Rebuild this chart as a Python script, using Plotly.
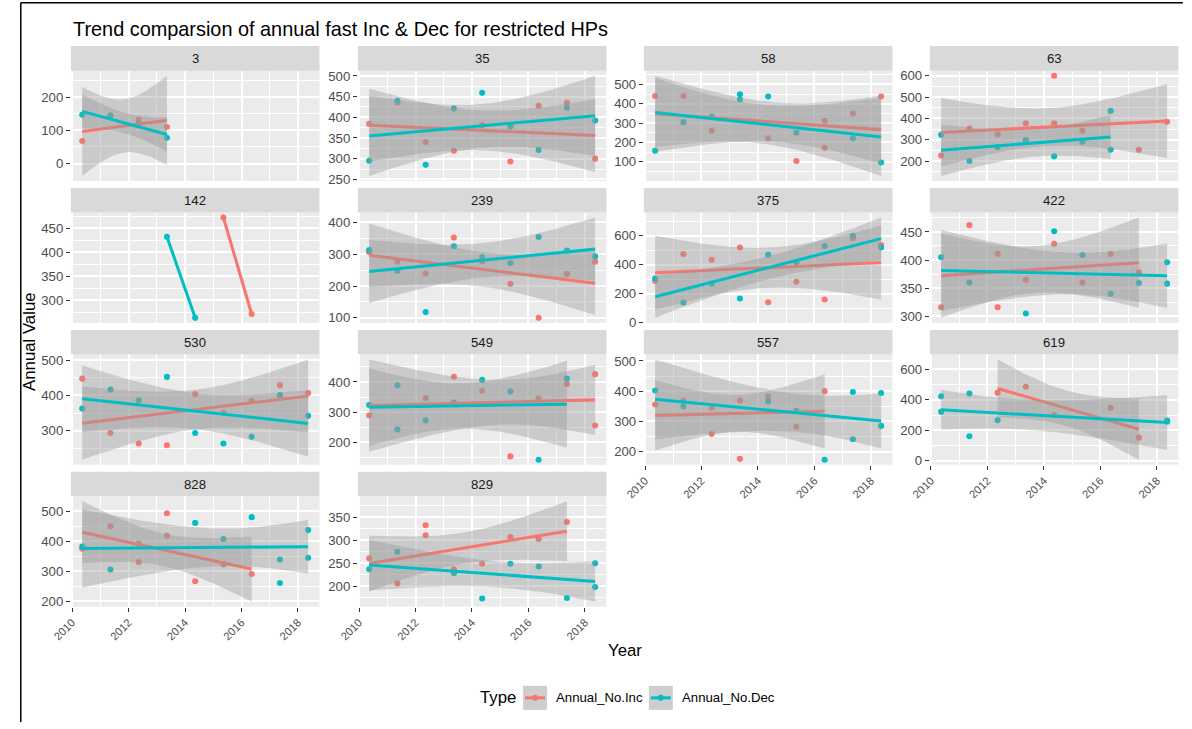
import math
import numpy as np
import plotly.graph_objects as go

# ---------------- data ----------------
TITLE = "Trend comparsion of annual fast Inc & Dec for restricted HPs"
X_TITLE = "Year"
Y_TITLE = "Annual Value"
LEGEND_TITLE = "Type"
SERIES_NAMES = ["Annual_No.Inc", "Annual_No.Dec"]
SERIES_COLORS = ["#F8766D", "#00BFC4"]
PANELS = ["3", "35", "58", "63", "142", "239", "375", "422",
          "530", "549", "557", "619", "828", "829"]
OBS_OFFSET = 0.36  # observations fall around May of each year

INC_YEARS = {
    "3": [2010, 2011, 2012, 2013],
    "35": [2010, 2011, 2012, 2013, 2014, 2015, 2016, 2017, 2018],
    "58": [2010, 2011, 2012, 2014, 2015, 2016, 2016, 2017, 2018],
    "63": [2010, 2011, 2012, 2013, 2014, 2014, 2015, 2017, 2018],
    "142": [2015, 2016],
    "239": [2010, 2011, 2012, 2013, 2014, 2015, 2016, 2017, 2018],
    "375": [2010, 2011, 2012, 2013, 2014, 2015, 2016, 2017, 2018],
    "422": [2010, 2011, 2012, 2012, 2013, 2014, 2015, 2016, 2017],
    "530": [2010, 2011, 2012, 2013, 2014, 2015, 2016, 2017, 2018],
    "549": [2010, 2012, 2013, 2014, 2015, 2016, 2017, 2018, 2018],
    "557": [2010, 2011, 2012, 2012, 2013, 2013, 2014, 2015, 2016],
    "619": [2012, 2013, 2014, 2016, 2017],
    "828": [2010, 2011, 2012, 2012, 2013, 2013, 2014, 2015, 2016],
    "829": [2010, 2011, 2012, 2012, 2013, 2014, 2015, 2016, 2017],
}
INC_VALUES = {
    "3": [68, 145, 132, 110],
    "35": [384, 435, 340, 319, 381, 293, 428, 435, 300],
    "58": [440, 440, 261, 222, 104, 312, 172, 350, 438],
    "63": [226, 352, 324, 377, 600, 377, 342, 253, 384],
    "142": [472, 271],
    "239": [306, 277, 239, 352, 277, 207, 100, 238, 276],
    "375": [287, 474, 434, 519, 140, 282, 159, 583, 536],
    "422": [316, 462, 411, 316, 365, 429, 360, 411, 378],
    "530": [448, 293, 263, 258, 404, 351, 385, 429, 407],
    "549": [290, 347, 417, 371, 154, 345, 393, 426, 256],
    "557": [356, 368, 345, 258, 369, 176, 382, 282, 400],
    "619": [447, 486, 300, 347, 151],
    "828": [375, 450, 392, 331, 493, 418, 267, 323, 291],
    "829": [261, 206, 333, 311, 237, 249, 307, 303, 340],
}
DEC_YEARS = {
    "3": [2010, 2011, 2012, 2013],
    "35": [2010, 2011, 2012, 2013, 2014, 2015, 2016, 2017, 2018],
    "58": [2010, 2011, 2012, 2013, 2013, 2014, 2015, 2017, 2018],
    "63": [2010, 2011, 2012, 2013, 2014, 2015, 2016, 2016],
    "142": [2013, 2014],
    "239": [2010, 2011, 2012, 2013, 2014, 2015, 2016, 2017, 2018],
    "375": [2010, 2011, 2012, 2013, 2014, 2015, 2016, 2017, 2018],
    "422": [2010, 2011, 2013, 2014, 2015, 2016, 2017, 2018, 2018],
    "530": [2010, 2011, 2012, 2013, 2014, 2015, 2016, 2017, 2018],
    "549": [2010, 2011, 2011, 2012, 2013, 2014, 2015, 2016, 2017],
    "557": [2010, 2011, 2014, 2015, 2016, 2017, 2017, 2018, 2018],
    "619": [2010, 2010, 2011, 2011, 2012, 2018, 2018],
    "828": [2010, 2011, 2014, 2015, 2016, 2017, 2017, 2018, 2018],
    "829": [2010, 2011, 2013, 2014, 2015, 2016, 2017, 2018, 2018],
}
DEC_VALUES = {
    "3": [147, 145, 120, 78],
    "35": [295, 440, 285, 421, 459, 378, 321, 423, 392],
    "58": [157, 305, 334, 449, 422, 438, 250, 222, 96],
    "63": [323, 200, 265, 298, 222, 290, 435, 253],
    "142": [432, 263],
    "239": [313, 248, 118, 325, 291, 272, 354, 311, 293],
    "375": [304, 138, 268, 166, 469, 417, 529, 600, 519],
    "422": [405, 360, 305, 451, 409, 340, 359, 396, 358],
    "530": [363, 417, 386, 453, 293, 263, 282, 401, 342],
    "549": [324, 389, 243, 273, 332, 407, 369, 143, 411],
    "557": [402, 350, 366, 335, 173, 397, 241, 394, 285],
    "619": [423, 321, 442, 160, 265, 263, 256],
    "828": [382, 306, 461, 407, 480, 339, 261, 437, 345],
    "829": [237, 275, 228, 173, 249, 243, 174, 250, 198],
}

# ---------------- helpers ----------------
T975 = {1: 12.706, 2: 4.303, 3: 3.182, 4: 2.776, 5: 2.571, 6: 2.447,
        7: 2.365, 8: 2.306, 9: 2.262, 10: 2.228, 11: 2.201, 12: 2.179}


def lm_band(x, y, n_eval=80):
    x = np.asarray(x, float)
    y = np.asarray(y, float)
    n = len(x)
    xm = x.mean()
    sxx = ((x - xm) ** 2).sum()
    b = ((x - xm) * (y - y.mean())).sum() / sxx
    a = y.mean() - b * xm
    xs = np.linspace(x.min(), x.max(), n_eval)
    fit = a + b * xs
    if n > 2:
        resid = y - (a + b * x)
        s = math.sqrt((resid ** 2).sum() / (n - 2))
        se = s * np.sqrt(1.0 / n + (xs - xm) ** 2 / sxx)
        t = T975[n - 2]
        return xs, fit, fit - t * se, fit + t * se
    return xs, fit, None, None


def extended(dmin, dmax, m=5, Q=(1, 5, 2, 2.5, 4, 3), w=(0.25, 0.2, 0.5, 0.05)):
    n = len(Q)
    best = None
    best_score = -2
    rng = dmax - dmin
    eps = 2.2e-14
    j = 1
    done = False
    while not done:
        for qi, q in enumerate(Q):
            sm = 1 - qi / (n - 1) - j + 1
            if w[0] * sm + w[1] + w[2] + w[3] < best_score:
                done = True
                break
            k = 2
            while True:
                dm = 2 - (k - 1) / (m - 1) if k >= m else 1
                if w[0] * sm + w[1] + w[2] * dm + w[3] < best_score:
                    break
                delta = rng / (k + 1) / j / q
                z = math.ceil(math.log10(delta))
                while True:
                    step = j * q * 10.0 ** z
                    span = step * (k - 1)
                    if span > rng:
                        half = (span - rng) / 2
                        cm = 1 - 0.5 * (2 * half ** 2) / ((0.1 * rng) ** 2)
                    else:
                        cm = 1
                    if w[0] * sm + w[1] * cm + w[2] * dm + w[3] < best_score:
                        break
                    min_start = math.floor(dmax / step) * j - (k - 1) * j
                    max_start = math.ceil(dmin / step) * j
                    if min_start > max_start:
                        z += 1
                        continue
                    for start in range(int(min_start), int(max_start) + 1):
                        lmin = start * (step / j)
                        lmax = lmin + step * (k - 1)
                        md = lmin % step
                        v = 1 if ((md < eps or step - md < eps) and lmin <= 0 <= lmax) else 0
                        s = 1 - qi / (n - 1) - j + v
                        c = 1 - 0.5 * ((dmax - lmax) ** 2 + (dmin - lmin) ** 2) / ((0.1 * rng) ** 2)
                        r = (k - 1) / (lmax - lmin)
                        rt = (m - 1) / (max(lmax, dmax) - min(dmin, lmin))
                        g = 2 - max(r / rt, rt / r)
                        score = w[0] * s + w[1] * c + w[2] * g + w[3]
                        if score > best_score:
                            best_score = score
                            best = (lmin, lmax, step)
                    z += 1
                k += 1
        j += 1
    lmin, lmax, step = best
    kk = int(round((lmax - lmin) / step))
    return [lmin + i * step for i in range(kk + 1)], step


def breaks_in(lo, hi):
    br, step = extended(lo, hi)
    tol = 1e-9 * (hi - lo)
    major = [round(b, 10) for b in br if lo - tol <= b <= hi + tol]
    minor = []
    b = br[0] - step / 2
    while b <= hi:
        if b >= lo:
            minor.append(b)
        b += step
    return major, minor


# ---------------- geometry (target pixels) ----------------
W, H = 1192, 729
# observed mapping of page pixels onto the captured picture
OX, OY, S = 18.0, 3.0, 0.985
COL_LEFT = [69, 356.5, 643, 929.5]
COL_W = 249
ROW_TOP = [47, 188.5, 330, 471.5]
STRIP_H = 24.5
PANEL_H = 110
FONT = "Liberation Sans, Arial, sans-serif"
RIBBON = "rgba(153,153,153,0.4)"


def px(x):
    return max(0.0, min(1.0, ((x - OX) / S) / W))


def py(y):
    return max(0.0, min(1.0, 1 - ((y - OY) / S) / H))


def fs(f):
    return f / S


# x positions
all_x = []
for p in PANELS:
    all_x += [yr + OBS_OFFSET for yr in INC_YEARS[p]]
    all_x += [yr + OBS_OFFSET for yr in DEC_YEARS[p]]
xmin, xmax = min(all_x), max(all_x)
xpad = 0.05 * (xmax - xmin)
XRANGE = [xmin - xpad, xmax + xpad]
x_major, x_minor = breaks_in(*XRANGE)

fig = go.Figure()
shapes = []
annotations = []
layout_axes = {}

for i, p in enumerate(PANELS):
    r, c = divmod(i, 4)
    k = i + 1
    xa = "x" if k == 1 else f"x{k}"
    ya = "y" if k == 1 else f"y{k}"
    series = [
        ([yr + OBS_OFFSET for yr in INC_YEARS[p]], INC_VALUES[p]),
        ([yr + OBS_OFFSET for yr in DEC_YEARS[p]], DEC_VALUES[p]),
    ]
    ys_all = []
    # points layer
    for (sx, sy), col in zip(series, SERIES_COLORS):
        fig.add_trace(go.Scatter(x=sx, y=sy, mode="markers", xaxis=xa, yaxis=ya,
                                 marker=dict(color=col, size=fs(6), line=dict(width=0)),
                                 showlegend=False, hoverinfo="skip"))
        ys_all += list(sy)
    # smooth layer (lm with 95% CI)
    for (sx, sy), col in zip(series, SERIES_COLORS):
        xs, fit, lo, hi = lm_band(sx, sy)
        ys_all += list(fit)
        if lo is not None:
            ys_all += list(lo) + list(hi)
            fig.add_trace(go.Scatter(x=np.concatenate([xs, xs[::-1]]),
                                     y=np.concatenate([hi, lo[::-1]]),
                                     mode="lines", fill="toself", fillcolor=RIBBON,
                                     line=dict(width=0), xaxis=xa, yaxis=ya,
                                     showlegend=False, hoverinfo="skip"))
        fig.add_trace(go.Scatter(x=xs, y=fit, mode="lines", xaxis=xa, yaxis=ya,
                                 line=dict(color=col, width=fs(3)),
                                 showlegend=False, hoverinfo="skip"))
    ylo, yhi = min(ys_all), max(ys_all)
    ypad = 0.05 * (yhi - ylo)
    yr_ = [ylo - ypad, yhi + ypad]
    y_major, y_minor = breaks_in(*yr_)

    left = COL_LEFT[c]
    top = ROW_TOP[r]
    show_x = (r == 3) or (r == 2 and c >= 2)
    xkey = "xaxis" if k == 1 else f"xaxis{k}"
    ykey = "yaxis" if k == 1 else f"yaxis{k}"
    layout_axes[xkey] = dict(
        domain=[px(left), px(left + COL_W)], anchor=ya, range=XRANGE,
        tickmode="array", tickvals=x_major, ticktext=[f"{v:g}" for v in x_major],
        showticklabels=show_x, ticks="outside" if show_x else "", ticklen=4,
        tickcolor="#333333", tickwidth=1, tickangle=-45,
        tickfont=dict(family=FONT, size=fs(11), color="#4D4D4D"),
        showgrid=True, gridcolor="white", gridwidth=1.5, zeroline=False, showline=False,
        minor=dict(tickmode="array", tickvals=x_minor, showgrid=True,
                   gridcolor="white", gridwidth=0.8, ticks=""),
    )
    layout_axes[ykey] = dict(
        domain=[py(top + STRIP_H + PANEL_H), py(top + STRIP_H)], anchor=xa, range=yr_,
        tickmode="array", tickvals=y_major, ticktext=[f"{v:g}" for v in y_major],
        ticks="outside", ticklen=4, tickcolor="#333333", tickwidth=1,
        tickfont=dict(family=FONT, size=fs(13), color="#4D4D4D"),
        showgrid=True, gridcolor="white", gridwidth=1.5, zeroline=False, showline=False,
        minor=dict(tickmode="array", tickvals=y_minor, showgrid=True,
                   gridcolor="white", gridwidth=0.8, ticks=""),
    )
    # strip
    shapes.append(dict(type="rect", xref="paper", yref="paper",
                       x0=px(left), x1=px(left + COL_W), y0=py(top + STRIP_H), y1=py(top),
                       fillcolor="#D9D9D9", line=dict(width=0), layer="below"))
    annotations.append(dict(xref="paper", yref="paper", x=px(left + COL_W / 2),
                            y=py(top + STRIP_H / 2), text=p, showarrow=False,
                            xanchor="center", yanchor="middle",
                            font=dict(family=FONT, size=fs(13), color="#1A1A1A")))

# titles
annotations.append(dict(xref="paper", yref="paper", x=px(69), y=py(30), text=TITLE,
                        showarrow=False, xanchor="left", yanchor="middle",
                        font=dict(family=FONT, size=fs(19.6), color="black")))
annotations.append(dict(xref="paper", yref="paper", x=px(624), y=py(650), text=X_TITLE,
                        showarrow=False, xanchor="center", yanchor="middle",
                        font=dict(family=FONT, size=fs(16.5), color="black")))
annotations.append(dict(xref="paper", yref="paper", x=px(28), y=py(342), text=Y_TITLE,
                        showarrow=False, xanchor="center", yanchor="middle", textangle=-90,
                        font=dict(family=FONT, size=fs(16.5), color="black")))

# legend (drawn manually, ggplot style)
LEG_Y = 697
annotations.append(dict(xref="paper", yref="paper", x=px(477), y=py(LEG_Y), text=LEGEND_TITLE,
                        showarrow=False, xanchor="left", yanchor="middle",
                        font=dict(family=FONT, size=fs(16.5), color="black")))
key_lefts = [522, 648]
for kl, name, col in zip(key_lefts, SERIES_NAMES, SERIES_COLORS):
    shapes.append(dict(type="rect", xref="paper", yref="paper",
                       x0=px(kl), x1=px(kl + 24), y0=py(LEG_Y + 12), y1=py(LEG_Y - 12),
                       fillcolor="#CECECE", line=dict(width=0)))
    shapes.append(dict(type="line", xref="paper", yref="paper",
                       x0=px(kl + 2), x1=px(kl + 22), y0=py(LEG_Y), y1=py(LEG_Y),
                       line=dict(color=col, width=fs(3))))
    shapes.append(dict(type="circle", xref="paper", yref="paper",
                       x0=px(kl + 9), x1=px(kl + 15), y0=py(LEG_Y + 3), y1=py(LEG_Y - 3),
                       fillcolor=col, line=dict(width=0)))
    annotations.append(dict(xref="paper", yref="paper", x=px(kl + 31), y=py(LEG_Y), text=name,
                            showarrow=False, xanchor="left", yanchor="middle",
                            font=dict(family=FONT, size=fs(13), color="black")))

# outer frame lines (left & top)
fx = 0.8 / W
fy = 1 - 0.8 / H
shapes.append(dict(type="line", xref="paper", yref="paper", x0=fx, x1=fx,
                   y0=0, y1=fy, line=dict(color="black", width=1.5)))
shapes.append(dict(type="line", xref="paper", yref="paper", x0=fx, x1=px(1183),
                   y0=fy, y1=fy, line=dict(color="black", width=1.5)))

fig.update_layout(
    width=W, height=H, margin=dict(l=0, r=0, t=0, b=0),
    paper_bgcolor="white", plot_bgcolor="#EBEBEB",
    showlegend=False, shapes=shapes, annotations=annotations,
    font=dict(family=FONT),
    **layout_axes,
)

fig.write_html("out.html")
